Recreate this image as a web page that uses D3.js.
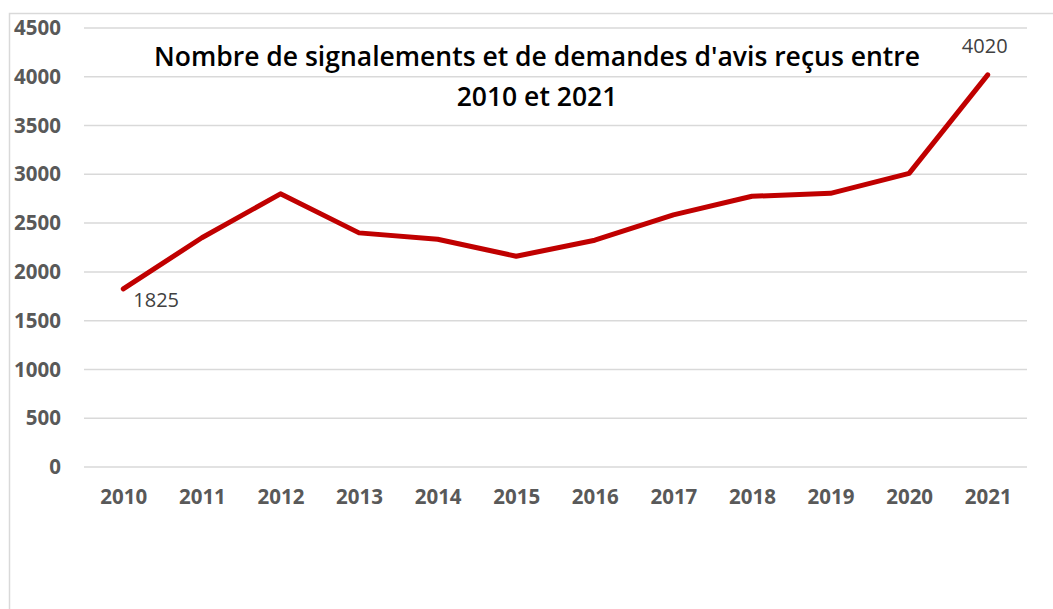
<!DOCTYPE html>
<html>
<head>
<meta charset="utf-8">
<script src="https://cdn.jsdelivr.net/npm/d3@7"></script>
<style>
  body { margin: 0; background: #fff; }
  svg { display: block; }
</style>
</head>
<body>
<script>
// data
var years = ["2010","2011","2012","2013","2014","2015","2016","2017","2018","2019","2020","2021"];
var counts = [1825, 2350, 2800, 2400, 2335, 2160, 2325, 2585, 2775, 2805, 3010, 4020];
var yTicks = [0, 500, 1000, 1500, 2000, 2500, 3000, 3500, 4000, 4500];
var titleLines = ["Nombre de signalements et de demandes d'avis reçus entre", "2010 et 2021"];

var width = 1053,
    height = 609;

var svg = d3.select("body").append("svg")
    .attr("width", width)
    .attr("height", height);

// outer chart border (cut by the image edge on right/bottom)
svg.append("rect")
    .attr("x", 9.5).attr("y", 13.5)
    .attr("width", 1100).attr("height", 700)
    .attr("fill", "none")
    .attr("stroke", "#d9d9d9")
    .attr("stroke-width", 1.5);

var x = d3.scalePoint()
    .domain(years)
    .range([84, 1027])
    .padding(0.5);

var y = d3.scaleLinear()
    .domain([0, 4500])
    .range([467, 28]);

// gridlines
svg.selectAll(".grid")
    .data(yTicks)
    .enter()
    .append("line")
    .attr("x1", 84).attr("x2", 1027)
    .attr("y1", function(d) { return y(d); })
    .attr("y2", function(d) { return y(d); })
    .attr("stroke", "#d9d9d9")
    .attr("stroke-width", 1.5);

// y axis
var yAxis = svg.append("g")
    .attr("transform", "translate(64,0)")
    .call(d3.axisLeft(y).tickValues(yTicks).tickFormat(d3.format("d")).tickSize(0).tickPadding(3));
yAxis.select(".domain").remove();
yAxis.selectAll("text")
    .attr("fill", "#595959")
    .style("font-family", "'Open Sans', sans-serif")
    .style("font-weight", "bold")
    .style("font-size", "20.5px");

// x axis
var xAxis = svg.append("g")
    .attr("transform", "translate(0,486)")
    .call(d3.axisBottom(x).tickSize(0).tickPadding(3));
xAxis.select(".domain").remove();
xAxis.selectAll("text")
    .attr("fill", "#595959")
    .style("font-family", "'Open Sans', sans-serif")
    .style("font-weight", "bold")
    .style("font-size", "20.5px");

// the line
var line = d3.line()
    .x(function(d, i) { return x(years[i]); })
    .y(function(d) { return y(d); });

svg.append("path")
    .datum(counts)
    .attr("d", line)
    .attr("fill", "none")
    .attr("stroke", "#c00000")
    .attr("stroke-width", 5)
    .attr("stroke-linejoin", "round")
    .attr("stroke-linecap", "round");

// labels on first and last point
var last = counts.length - 1;
svg.append("text")
    .attr("x", x(years[0]) + 10)
    .attr("y", y(counts[0]) + 18)
    .attr("fill", "#404040")
    .style("font-family", "'Open Sans', sans-serif")
    .style("font-size", "20px")
    .text(counts[0]);

svg.append("text")
    .attr("x", x(years[last]) - 3)
    .attr("y", y(counts[last]) - 22)
    .attr("text-anchor", "middle")
    .attr("fill", "#404040")
    .style("font-family", "'Open Sans', sans-serif")
    .style("font-size", "20px")
    .text(counts[last]);

// title
svg.selectAll(".title")
    .data(titleLines)
    .enter()
    .append("text")
    .attr("x", 537)
    .attr("y", function(d, i) { return 66 + i * 40; })
    .attr("text-anchor", "middle")
    .attr("fill", "#000")
    .style("font-family", "'Open Sans', sans-serif")
    .style("font-weight", "600")
    .style("font-size", "26.5px")
    .text(function(d) { return d; });
</script>
</body>
</html>
